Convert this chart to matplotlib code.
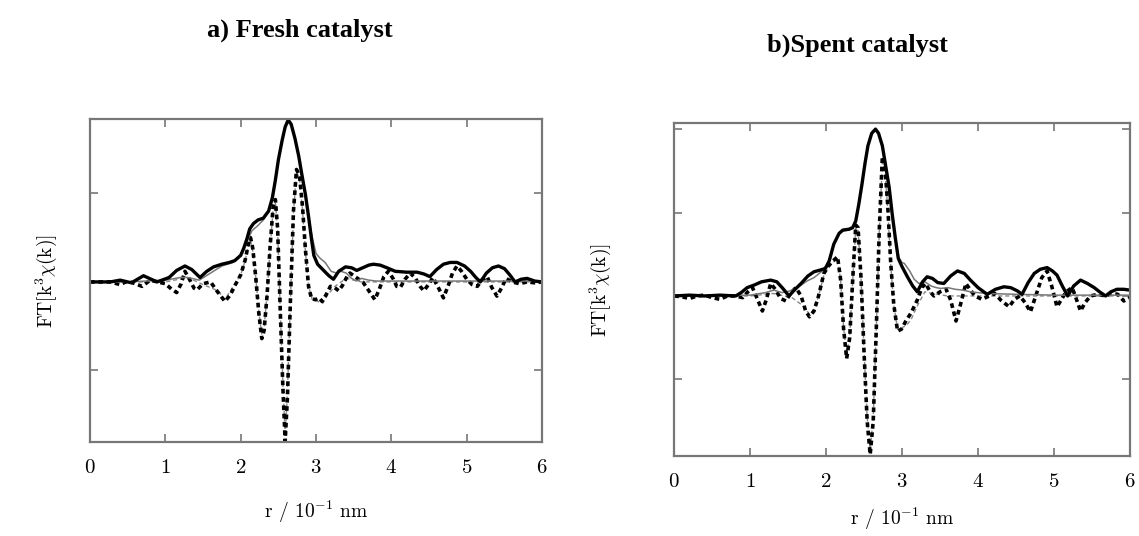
import numpy as np
import matplotlib
matplotlib.use("Agg")
import matplotlib.pyplot as plt

plt.rcParams["font.family"] = ["cmr10", "DejaVu Serif"]
plt.rcParams["mathtext.fontset"] = "cm"
plt.rcParams["axes.formatter.use_mathtext"] = True

# ---------- a) fresh catalyst ----------
a_mag_r = [0.0, 0.27, 0.4, 0.55, 0.71, 0.89, 1.05, 1.15, 1.26, 1.35, 1.46, 1.55, 1.64, 1.75, 1.85, 1.92,
           2.0, 2.04, 2.08, 2.12, 2.17, 2.23, 2.3, 2.37, 2.42, 2.46, 2.5, 2.55, 2.59, 2.63, 2.67, 2.72,
           2.77, 2.81, 2.86, 2.9, 2.94, 2.97, 3.02, 3.1, 3.17, 3.23, 3.3, 3.39, 3.47, 3.54, 3.62, 3.7,
           3.76, 3.85, 3.94, 4.05, 4.2, 4.34, 4.43, 4.51, 4.6, 4.69, 4.78, 4.87, 4.97, 5.05, 5.12, 5.18,
           5.26, 5.34, 5.42, 5.5, 5.57, 5.64, 5.72, 5.8, 5.9, 6.0]
a_mag = [0.0, 0.0, 0.02, -0.01, 0.07, 0.0, 0.05, 0.13, 0.18, 0.14, 0.05, 0.12, 0.17, 0.2, 0.22, 0.24,
         0.3, 0.38, 0.48, 0.6, 0.66, 0.7, 0.72, 0.8, 0.95, 1.15, 1.38, 1.6, 1.75, 1.83, 1.78, 1.62,
         1.42, 1.22, 0.98, 0.74, 0.48, 0.3, 0.2, 0.13, 0.07, 0.03, 0.12, 0.17, 0.16, 0.13, 0.16, 0.19,
         0.2, 0.19, 0.16, 0.12, 0.11, 0.11, 0.09, 0.06, 0.14, 0.2, 0.22, 0.22, 0.18, 0.12, 0.05, 0.0,
         0.1, 0.16, 0.18, 0.15, 0.08, 0.0, 0.03, 0.04, 0.01, 0.0]

a_fit_r = [0.0, 0.5, 1.0, 1.2, 1.3, 1.45, 1.6, 1.75, 1.9, 2.0, 2.08, 2.15, 2.22, 2.3, 2.37, 2.42, 2.46,
           2.5, 2.55, 2.59, 2.63, 2.67, 2.72, 2.77, 2.81, 2.86, 2.9, 2.95, 3.0, 3.05, 3.12, 3.2, 3.27,
           3.33, 3.4, 3.47, 3.54, 3.6, 3.7, 3.8, 4.5, 6.0]
a_fit = [0.0, 0.0, 0.02, 0.05, 0.05, 0.02, 0.1, 0.18, 0.22, 0.3, 0.45, 0.58, 0.63, 0.7, 0.8, 0.95, 1.15,
         1.38, 1.6, 1.75, 1.83, 1.78, 1.62, 1.42, 1.22, 0.98, 0.74, 0.5, 0.32, 0.27, 0.22, 0.12, 0.1,
         0.12, 0.1, 0.04, 0.01, 0.04, 0.02, 0.01, 0.01, 0.01]

a_im_r = [0.0, 0.27, 0.4, 0.5, 0.6, 0.69, 0.8, 0.9, 1.0, 1.08, 1.15, 1.21, 1.26, 1.32, 1.38, 1.42, 1.5,
          1.6, 1.7, 1.79, 1.86, 1.93, 2.0, 2.06, 2.1, 2.13, 2.16, 2.2, 2.24, 2.28, 2.31, 2.35, 2.39,
          2.43, 2.46, 2.49, 2.52, 2.56, 2.59, 2.62, 2.66, 2.7, 2.74, 2.78, 2.82, 2.86, 2.9, 2.94, 2.99,
          3.04, 3.08, 3.13, 3.19, 3.24, 3.3, 3.35, 3.41, 3.45, 3.5, 3.55, 3.62, 3.7, 3.78, 3.84, 3.9,
          3.96, 4.02, 4.07, 4.12, 4.18, 4.25, 4.32, 4.38, 4.43, 4.5, 4.55, 4.62, 4.69, 4.75, 4.81, 4.87,
          4.93, 5.0, 5.07, 5.14, 5.2, 5.27, 5.33, 5.4, 5.46, 5.52, 5.6, 5.7, 5.8, 5.9, 6.0]
a_im = [0.0, 0.0, -0.03, 0.01, -0.02, -0.05, 0.02, 0.0, -0.02, -0.08, -0.12, -0.02, 0.12, 0.03, -0.07,
        -0.09, -0.02, 0.0, -0.12, -0.22, -0.15, -0.03, 0.08, 0.25, 0.42, 0.5, 0.38, 0.05, -0.35, -0.64,
        -0.55, -0.15, 0.4, 0.85, 0.93, 0.6, -0.2, -1.2, -1.8, -1.3, -0.2, 0.8, 1.27, 1.2, 0.85, 0.35,
        -0.05, -0.19, -0.2, -0.18, -0.22, -0.15, -0.05, -0.06, -0.1, -0.04, 0.06, 0.1, 0.07, 0.04, 0.0,
        -0.1, -0.2, -0.08, 0.06, 0.12, 0.04, -0.05, -0.06, 0.03, 0.1, 0.04, -0.05, -0.1, -0.02, 0.05,
        -0.06, -0.18, -0.05, 0.1, 0.18, 0.12, 0.03, -0.03, -0.05, 0.02, 0.06, -0.06, -0.16, -0.07, 0.04,
        0.0, -0.02, 0.0, -0.01, 0.0]

a_imfit_r = [0.0, 1.0, 1.3, 1.5, 1.7, 1.79, 1.9, 2.0, 2.06, 2.1, 2.13, 2.16, 2.2, 2.24, 2.28, 2.31, 2.35,
             2.39, 2.43, 2.46, 2.49, 2.52, 2.56, 2.59, 2.62, 2.66, 2.7, 2.74, 2.78, 2.82, 2.86, 2.9,
             2.95, 3.02, 3.09, 3.15, 3.25, 3.4, 3.6, 6.0]
a_imfit = [0.0, 0.0, 0.05, -0.03, -0.1, -0.2, -0.05, 0.08, 0.24, 0.4, 0.47, 0.35, 0.05, -0.33, -0.6,
           -0.52, -0.14, 0.38, 0.82, 0.9, 0.58, -0.2, -1.15, -1.75, -1.25, -0.2, 0.78, 1.24, 1.17, 0.82,
           0.33, -0.05, -0.2, -0.22, -0.24, -0.15, -0.05, 0.04, 0.0, 0.0]

# ---------- b) spent catalyst ----------
b_mag_r = [0.0, 0.2, 0.4, 0.6, 0.81, 0.88, 0.96, 1.05, 1.15, 1.27, 1.35, 1.43, 1.51, 1.58, 1.67, 1.76,
           1.84, 1.92, 1.99, 2.04, 2.1, 2.17, 2.22, 2.3, 2.35, 2.39, 2.43, 2.47, 2.51, 2.55, 2.6, 2.65,
           2.69, 2.74, 2.78, 2.83, 2.87, 2.91, 2.95, 3.0, 3.07, 3.14, 3.2, 3.27, 3.33, 3.4, 3.47, 3.55,
           3.64, 3.73, 3.82, 3.9, 4.0, 4.12, 4.23, 4.34, 4.43, 4.52, 4.58, 4.66, 4.74, 4.82, 4.91, 4.98,
           5.04, 5.11, 5.18, 5.26, 5.35, 5.44, 5.53, 5.6, 5.68, 5.75, 5.83, 5.92, 6.0]
b_mag = [0.0, 0.01, 0.0, 0.01, 0.0, 0.04, 0.1, 0.13, 0.17, 0.19, 0.17, 0.09, 0.0, 0.07, 0.15, 0.24,
         0.29, 0.31, 0.33, 0.42, 0.62, 0.75, 0.79, 0.8, 0.82, 0.9, 1.1, 1.33, 1.58, 1.8, 1.95, 2.0,
         1.95, 1.8, 1.58, 1.3, 0.98, 0.7, 0.45, 0.35, 0.23, 0.12, 0.05, 0.17, 0.23, 0.21, 0.16, 0.15,
         0.24, 0.3, 0.27, 0.19, 0.1, 0.02, 0.08, 0.11, 0.1, 0.06, 0.02, 0.16, 0.27, 0.32, 0.34, 0.3,
         0.25, 0.12, 0.0, 0.12, 0.19, 0.15, 0.1, 0.05, 0.0, 0.05, 0.08, 0.08, 0.07]

b_fit_r = [0.0, 1.0, 1.2, 1.31, 1.42, 1.52, 1.62, 1.75, 1.84, 1.95, 2.04, 2.1, 2.17, 2.22, 2.3, 2.35,
           2.39, 2.43, 2.47, 2.51, 2.55, 2.6, 2.65, 2.69, 2.74, 2.78, 2.83, 2.87, 2.91, 2.95, 3.0, 3.03,
           3.1, 3.16, 3.22, 3.3, 3.38, 3.45, 3.51, 3.6, 3.7, 3.8, 3.9, 4.1, 4.5, 5.0, 6.0]
b_fit = [0.0, 0.01, 0.04, 0.07, 0.04, 0.06, 0.1, 0.18, 0.22, 0.3, 0.42, 0.62, 0.74, 0.78, 0.79, 0.81,
         0.9, 1.1, 1.33, 1.58, 1.8, 1.95, 2.0, 1.95, 1.8, 1.58, 1.3, 0.98, 0.7, 0.47, 0.4, 0.39, 0.3,
         0.2, 0.15, 0.17, 0.12, 0.1, 0.09, 0.1, 0.08, 0.07, 0.05, 0.03, 0.02, 0.01, 0.01]

b_im_r = [0.0, 0.1, 0.2, 0.3, 0.4, 0.5, 0.6, 0.7, 0.8, 0.9, 0.97, 1.03, 1.1, 1.16, 1.21, 1.27, 1.33, 1.4,
          1.47, 1.53, 1.6, 1.67, 1.73, 1.78, 1.84, 1.9, 1.97, 2.03, 2.09, 2.15, 2.19, 2.23, 2.27, 2.31,
          2.35, 2.39, 2.42, 2.46, 2.5, 2.54, 2.58, 2.62, 2.66, 2.7, 2.74, 2.77, 2.81, 2.85, 2.89, 2.94,
          2.99, 3.05, 3.12, 3.2, 3.26, 3.31, 3.37, 3.42, 3.5, 3.58, 3.64, 3.71, 3.77, 3.84, 3.9, 3.96,
          4.05, 4.15, 4.22, 4.3, 4.41, 4.48, 4.55, 4.62, 4.69, 4.76, 4.84, 4.91, 4.97, 5.04, 5.1, 5.16,
          5.24, 5.3, 5.35, 5.41, 5.48, 5.58, 5.68, 5.76, 5.84, 5.92, 6.0]
b_im = [0.0, -0.01, -0.03, 0.0, 0.01, -0.02, -0.04, 0.0, 0.0, -0.02, 0.05, 0.1, -0.05, -0.18, -0.05, 0.15,
        0.08, -0.03, -0.06, 0.03, 0.1, 0.0, -0.18, -0.25, -0.18, 0.0, 0.27, 0.36, 0.42, 0.47, 0.2, -0.4,
        -0.75, -0.5, 0.2, 0.85, 0.82, 0.2, -0.7, -1.5, -1.9, -1.5, -0.4, 0.8, 1.67, 1.6, 1.1, 0.4, -0.1,
        -0.42, -0.4, -0.3, -0.2, -0.05, 0.1, 0.15, 0.05, 0.0, 0.05, 0.08, -0.05, -0.3, -0.1, 0.15, 0.07,
        0.0, -0.04, 0.0, 0.03, -0.05, -0.13, -0.04, 0.0, -0.08, -0.19, 0.0, 0.22, 0.3, 0.12, -0.13,
        -0.04, 0.05, 0.1, -0.05, -0.18, -0.08, 0.0, 0.02, 0.0, 0.03, 0.02, -0.06, -0.02]

b_imfit_r = [0.0, 1.0, 1.3, 1.55, 1.7, 1.78, 1.84, 1.9, 1.97, 2.03, 2.09, 2.15, 2.19, 2.23, 2.27, 2.31,
             2.35, 2.39, 2.42, 2.46, 2.5, 2.54, 2.58, 2.62, 2.66, 2.7, 2.74, 2.77, 2.81, 2.85, 2.89,
             2.94, 3.0, 3.06, 3.12, 3.2, 3.3, 3.4, 3.6, 4.0, 5.0, 6.0]
b_imfit = [0.0, 0.0, 0.03, -0.02, -0.12, -0.22, -0.16, 0.0, 0.25, 0.34, 0.4, 0.45, 0.19, -0.38, -0.72,
           -0.48, 0.19, 0.82, 0.8, 0.2, -0.68, -1.45, -1.85, -1.45, -0.4, 0.78, 1.6, 1.55, 1.06, 0.38,
           -0.1, -0.4, -0.38, -0.35, -0.28, -0.12, 0.05, 0.03, 0.0, 0.0, 0.0, 0.0]

panels = [
    dict(rect=[0.079, 0.175, 0.397, 0.603], ylim=(-1.81, 1.84), ylab_x=-0.068, xpad=16,
         data=(a_mag_r, a_mag, a_fit_r, a_fit, a_im_r, a_im, a_imfit_r, a_imfit)),
    dict(rect=[0.592, 0.149, 0.400, 0.621], ylim=(-1.92, 2.07), ylab_x=-0.135, xpad=11,
         data=(b_mag_r, b_mag, b_fit_r, b_fit, b_im_r, b_im, b_imfit_r, b_imfit)),
]

fig = plt.figure(figsize=(11.39, 5.36), dpi=100)
for p in panels:
    ax = fig.add_axes(p["rect"])
    mr, m, fr, f, ir, im, ifr, imf = p["data"]
    ax.plot(ifr, imf, color="#888888", lw=1.0, ls=(0, (3, 2)))
    ax.plot(ir, im, color="black", lw=2.6, ls=(0, (1.3, 1.0)))
    ax.plot(fr, f, color="#777777", lw=1.1)
    ax.plot(mr, m, color="black", lw=2.4)
    ax.set_xticks(range(7))
    ax.set_yticks([-2, -1, 0, 1, 2])
    ax.set_yticklabels([])
    ax.set_xlim(0, 6)
    ax.set_ylim(*p["ylim"])
    ax.tick_params(direction="in", top=True, right=True, length=6, width=1.2, color="#777777",
                   labelsize=15, pad=12)
    for s in ax.spines.values():
        s.set_color("#777777")
        s.set_linewidth(1.6)
    ax.set_xlabel(r"r / 10$^{\mathregular{-1}}$ nm", fontsize=14, labelpad=p["xpad"])
    ax.set_ylabel(r"FT[k$^{\mathregular{3}}$$\chi$(k)]", fontsize=14)
    ax.yaxis.set_label_coords(p["ylab_x"], 0.5)

fig.text(300 / 1139, 1 - 30 / 536, "a) Fresh catalyst", ha="center", va="center",
         fontsize=19, fontweight="bold", family="Liberation Serif")
fig.text(857 / 1139, 1 - 45 / 536, "b)Spent catalyst", ha="center", va="center",
         fontsize=19, fontweight="bold", family="Liberation Serif")

fig.savefig("out.png", dpi=100)
